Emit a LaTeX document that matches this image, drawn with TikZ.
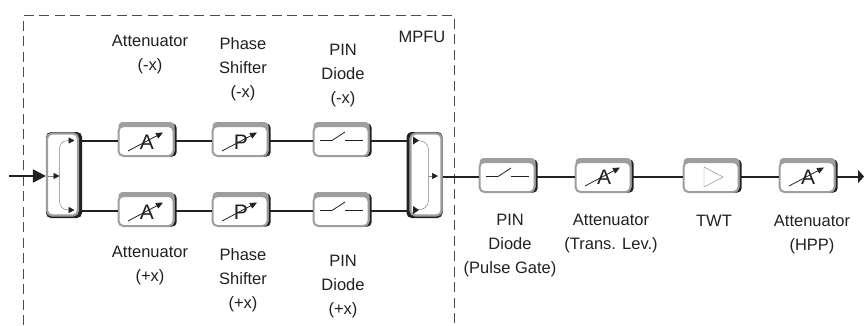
\documentclass[tikz,border=0pt]{standalone}
\usepackage{fontspec}
\setmainfont{Liberation Sans}
\usetikzlibrary{arrows.meta,calc}
\definecolor{bevel}{gray}{0.62}
\definecolor{edge}{gray}{0.13}
\tikzset{
  x=1pt,y=-1pt,
  wire/.style={line width=2pt,draw=edge},
  thin wire/.style={line width=0.5pt,draw=black!50},
  glyph/.style={line width=0.8pt,draw=edge},
  lbl/.style={align=center,font=\fontsize{16.5}{24}\selectfont,text=edge,inner sep=0pt},
  frontbox/.style={draw=bevel,line width=2pt,fill=white,rounded corners=5pt,inner sep=0pt,minimum width=55pt,minimum height=30pt},
  backbox/.style={draw=none,fill=bevel,rounded corners=4pt,inner sep=0pt,minimum width=56pt,minimum height=33pt},
  darkbox/.style={draw=none,fill=edge,rounded corners=4pt,inner sep=0pt,minimum width=56pt,minimum height=33pt},
  frontsw/.style={draw=bevel,line width=2.2pt,fill=white,rounded corners=5pt,inner sep=0pt,minimum width=31pt,minimum height=82pt},
  darksw/.style={draw=none,fill=edge,rounded corners=5pt,inner sep=0pt,minimum width=36pt,minimum height=86pt},
  tri/.style={-{Triangle[length=6pt,width=6pt,color=edge]},thin wire},
}
\newcommand{\blockface}[3]{%
  \node[darkbox] at (#2+2.5,#3-1) {};
  \node[backbox] at (#2+0.5,#3-2.5) {};
  \node[frontbox] (#1) at (#2,#3) {};
}
\newcommand{\letterglyph}[3]{%
  \node[inner sep=0pt,font=\fontsize{21}{21}\selectfont,text=edge] at (#2,#3) {#1};
  \draw[glyph,-{Triangle[length=7pt,width=6pt]}] (#2-19,#3+9) -- (#2+16,#3-9.5);
}
\newcommand{\swglyph}[2]{%
  \draw[glyph] (#1-21,#2) -- (#1-9,#2) -- (#1+4,#2-8.5);
  \draw[glyph] (#1+4,#2) -- (#1+22,#2);
}
\begin{document}
\begin{tikzpicture}
\useasboundingbox (0,0) rectangle (864,325);
\fill[white] (0,0) rectangle (864,325);

% MPFU frame
\coordinate (fa) at (23,325);
\coordinate (fb) at (23,15.5);
\coordinate (fc) at (454.5,15.5);
\coordinate (fd) at (454.5,325);
\draw[line width=0.9pt,draw=black!70,dash pattern=on 10pt off 5.5pt] (fa) -- (fb) -- (fc) -- (fd);

% splitter and combiner
\node[darksw] at (64,175) {};
\node[frontsw] (split) at (62.5,174.5) {};
\node[darksw] at (424.5,175) {};
\node[frontsw] (comb) at (426,174.5) {};

% blocks
\blockface{a1}{146}{141}
\blockface{p1}{240}{141}
\blockface{d1}{341}{141}
\blockface{a2}{146}{211}
\blockface{p2}{240}{211}
\blockface{d2}{341}{211}
\blockface{pg}{507}{177}
\blockface{at}{603}{177}
\blockface{tw}{711}{177}
\blockface{hp}{807}{177}

% connectors
\coordinate (in) at (9,176);
\coordinate (out) at (864,176.5);
\draw[wire,-{Triangle[length=13pt,width=13pt]}] (in) -- (split.west |- in);
\draw[wire] (81,140.5) -- (a1.west |- 0,140.5);
\draw[wire] (a1.east |- 0,140.5) -- (p1.west |- 0,140.5);
\draw[wire] (p1.east |- 0,140.5) -- (d1.west |- 0,140.5);
\draw[wire] (d1.east |- 0,140.5) -- (408,140.5);
\draw[wire] (81,210.5) -- (a2.west |- 0,210.5);
\draw[wire] (a2.east |- 0,210.5) -- (p2.west |- 0,210.5);
\draw[wire] (p2.east |- 0,210.5) -- (d2.west |- 0,210.5);
\draw[wire] (d2.east |- 0,210.5) -- (408,210.5);
\draw[wire] (comb.east |- 0,176.5) -- (pg.west |- 0,176.5);
\draw[wire] (pg.east |- 0,176.5) -- (at.west |- 0,176.5);
\draw[wire] (at.east |- 0,176.5) -- (tw.west |- 0,176.5);
\draw[wire] (tw.east |- 0,176.5) -- (hp.west |- 0,176.5);
\draw[wire,-{Triangle[length=6pt,width=13pt]}] (hp.east |- 0,176.5) -- (out);

% splitter inside
\draw[tri] (48,176) -- (59.5,176);
\draw[tri] (59.5,176) -- (59.5,150) .. controls (59.5,144) and (62,140.5) .. (74.5,140.5);
\draw[tri] (59.5,176) -- (59.5,200) .. controls (59.5,206) and (62,210) .. (74.5,210);
% combiner inside
\draw[tri] (428.5,176) -- (438,176);
\draw[thin wire] (428.5,176) -- (428.5,150) .. controls (428.5,144) and (425,140.5) .. (415,140.5);
\draw[thin wire] (428.5,176) -- (428.5,200) .. controls (428.5,206) and (425,210) .. (415,210);
\fill[edge] (413,136.5) -- (419,140.5) -- (413,144.5) -- cycle;
\fill[edge] (413,206) -- (419,210) -- (413,214) -- cycle;

% glyphs
\letterglyph{A}{147}{142}
\letterglyph{P}{241}{142}
\swglyph{341}{140.5}
\letterglyph{A}{147}{212}
\letterglyph{P}{241}{212}
\swglyph{341}{210.5}
\swglyph{507}{176.5}
\letterglyph{A}{604}{177}
\draw[line width=0.4pt,draw=black!50] (704,167) -- (723,177) -- (704,187) -- cycle;
\letterglyph{A}{808}{177}

% labels
\node[lbl] (t1) at (150,54.5) {Attenuator\\(-x)};
\node[lbl] (t2) at (243,69) {Phase\\Shifter\\(-x)};
\node[lbl] (t3) at (343,75.5) {PIN\\Diode\\(-x)};
\node[lbl] (t4) at (422,37) {MPFU};
\node[lbl] (b1) at (150,266) {Attenuator\\(+x)};
\node[lbl] (b2) at (243,280) {Phase\\Shifter\\(+x)};
\node[lbl] (b3) at (343,287) {PIN\\Diode\\(+x)};
\node[lbl] (r1) at (510,245.5) {PIN\\Diode\\(Pulse Gate)};
\node[lbl] (r2) at (611,233.5) {Attenuator\\(Trans. Lev.)};
\node[lbl] (r3) at (714,221) {TWT};
\node[lbl] (r4) at (812,234.5) {Attenuator\\(HPP)};
\end{tikzpicture}
\end{document}
